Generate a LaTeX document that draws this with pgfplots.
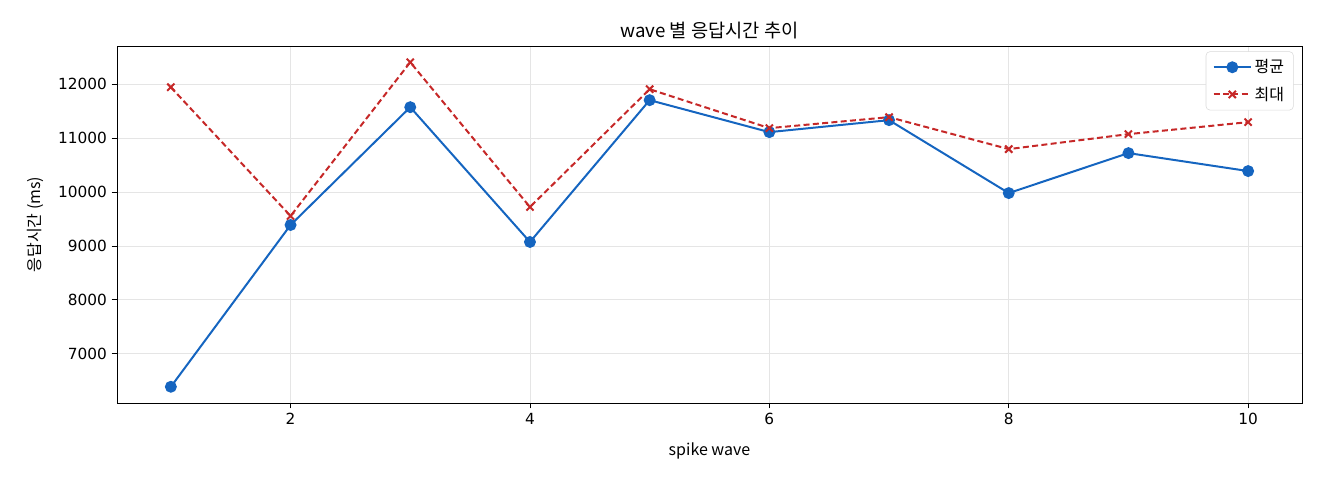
\documentclass[border=0pt]{standalone}
\usepackage{fontspec}
\setmainfont{Noto Sans CJK KR}
\newfontfamily\numfont{DejaVu Sans}
\usepackage{pgfplots}
\pgfplotsset{compat=1.18}
\definecolor{avgblue}{HTML}{1565C0}
\definecolor{maxred}{HTML}{C62828}
\begin{document}
\begin{tikzpicture}
\begin{axis}[
    scale only axis,
    clip=false,
    width=888.75pt, height=267.75pt,
    xmin=0.55, xmax=10.45,
    ymin=6088, ymax=12708,
    xtick={2,4,6,8,10},
    ytick={7000,8000,9000,10000,11000,12000},
    scaled y ticks=false,
    /pgf/number format/assume math mode=true,
    /pgf/number format/1000 sep={},
    tick label style={font=\numfont\fontsize{11.5}{13}\selectfont},
    label style={font=\fontsize{12}{14}\selectfont},
    xlabel style={yshift=-7pt},
    ylabel style={yshift=4pt},
    title style={font=\fontsize{14}{16}\selectfont, yshift=-4pt},
    title={wave 별 응답시간 추이},
    xlabel={spike wave},
    ylabel={응답시간 (ms)},
    grid=major,
    major grid style={gray!20, line width=0.6pt},
    tick align=outside,
    tick pos=left,
    tick style={black, line width=0.6pt},
    major tick length=4pt,
    axis line style={line width=0.7pt},
    legend pos=north east,
    legend cell align=left,
    legend image code/.code={
        \draw[mark repeat=2,mark phase=2,#1] plot coordinates {(0pt,0pt) (14pt,0pt) (28pt,0pt)};
    },
    legend style={font=\fontsize{12}{14}\selectfont, draw=gray!30, rounded corners=3pt,
        inner xsep=5pt, inner ysep=4pt, row sep=5pt, at={(0.993,0.985)},
        /tikz/every even column/.append style={column sep=6pt}},
]
\addplot[avgblue, line width=1.5pt, mark=*, mark size=3.7pt] coordinates {
    (1,6389) (2,9389) (3,11574) (4,9074) (5,11704)
    (6,11111) (7,11333) (8,9981) (9,10722) (10,10389)
};
\addlegendentry{평균}
\addplot[maxred, line width=1.5pt, dash pattern=on 4.5pt off 2.5pt, mark=x, mark size=3.8pt, mark options={solid}] coordinates {
    (1,11944) (2,9556) (3,12407) (4,9722) (5,11907)
    (6,11185) (7,11389) (8,10796) (9,11074) (10,11296)
};
\addlegendentry{최대}
\path (rel axis cs:0,0) ++(-87.75pt,-57.75pt) rectangle ++(990pt,360pt);
\end{axis}
\end{tikzpicture}
\end{document}
